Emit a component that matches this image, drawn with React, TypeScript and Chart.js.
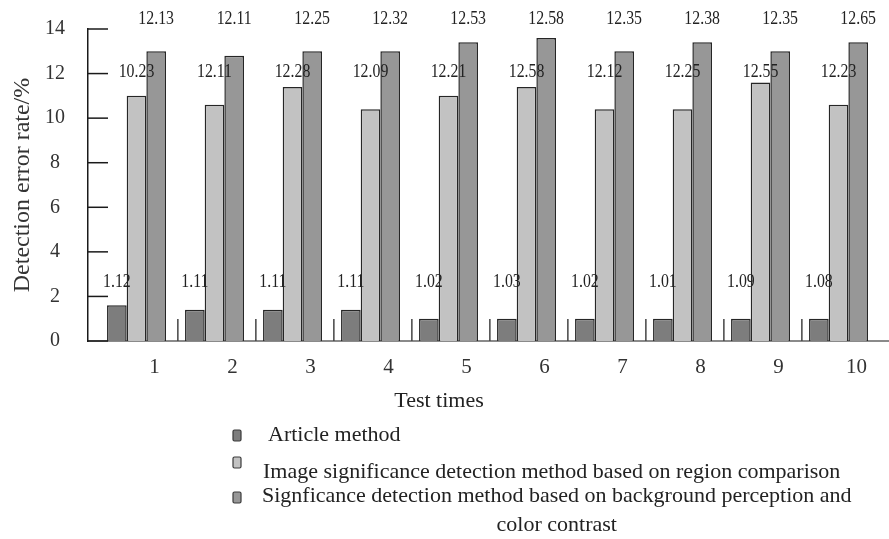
import React, { useEffect, useRef } from 'react';
import { Chart, registerables } from 'chart.js';

Chart.register(...registerables);

// ---- data ----
const testTimes = [1, 2, 3, 4, 5, 6, 7, 8, 9, 10];
const xTickLabels = ['1', '2', '3', '4', '5', '6', '7', '8', '9', '10'];

const seriesNames = [
  'Article method',
  'Image significance detection method based on region comparison',
  'Signficance detection method based on background perception and color contrast',
];

const articleMethod = [1.6, 1.4, 1.4, 1.4, 1.0, 1.0, 1.0, 1.0, 1.0, 1.0];
const regionComparison = [11.0, 10.6, 11.4, 10.4, 11.0, 11.4, 10.4, 10.4, 11.6, 10.6];
const backgroundPerception = [13.0, 12.8, 13.0, 13.0, 13.4, 13.6, 13.0, 13.4, 13.0, 13.4];

const articleLabels = ['1.12', '1.11', '1.11', '1.11', '1.02', '1.03', '1.02', '1.01', '1.09', '1.08'];
const regionLabels = ['10.23', '12.11', '12.28', '12.09', '12.21', '12.58', '12.12', '12.25', '12.55', '12.23'];
const backgroundLabels = ['12.13', '12.11', '12.25', '12.32', '12.53', '12.58', '12.35', '12.38', '12.35', '12.65'];

const xTitle = 'Test times';
const yTitle = 'Detection error rate/%';

// ---- styles ----
const FONT = "'Liberation Serif', 'Times New Roman', serif";
const seriesColors = ['#7d7d7d', '#c2c2c2', '#979797'];
const valueLabels = [articleLabels, regionLabels, backgroundLabels];
const labelLevels = [2.65, 12.04, 14.44];

const legendItems = [
  { boxY: 430, textX: 268, textY: 435 },
  { boxY: 457, textX: 263, textY: 472 },
  { boxY: 492, textX: 262, textY: 496 },
];

function wrap(ctx: CanvasRenderingContext2D, text: string, maxW: number): string[] {
  const words = text.split(' ');
  const lines: string[] = [];
  let cur = '';
  for (const w of words) {
    const t = cur ? cur + ' ' + w : w;
    if (ctx.measureText(t).width > maxW && cur) {
      lines.push(cur);
      cur = w;
    } else cur = t;
  }
  if (cur) lines.push(cur);
  return lines;
}

const decorPlugin = {
  id: 'decor',
  afterDraw(chart: any) {
    const { ctx, chartArea, scales } = chart;
    const xs = scales.x;
    const ys = scales.y;
    ctx.save();

    // inward y ticks
    ctx.strokeStyle = '#1a1a1a';
    ctx.lineWidth = 1.5;
    ys.ticks.forEach((t: any) => {
      const py = ys.getPixelForValue(t.value);
      ctx.beginPath();
      ctx.moveTo(chartArea.left, py);
      ctx.lineTo(chartArea.left + 20, py);
      ctx.stroke();
    });

    // group separator marks on x axis
    ctx.strokeStyle = '#444';
    ctx.lineWidth = 1.5;
    for (let k = 0; k < testTimes.length - 1; k++) {
      const px = xs.getPixelForValue(testTimes[k] + 0.53);
      ctx.beginPath();
      ctx.moveTo(px, chartArea.bottom);
      ctx.lineTo(px, chartArea.bottom - 22);
      ctx.stroke();
    }

    // value labels
    ctx.fillStyle = '#222';
    ctx.font = `18px ${FONT}`;
    ctx.textAlign = 'center';
    ctx.textBaseline = 'middle';
    chart.data.datasets.forEach((_ds: any, i: number) => {
      const meta = chart.getDatasetMeta(i);
      const py = ys.getPixelForValue(labelLevels[i]);
      meta.data.forEach((bar: any, j: number) => {
        ctx.save();
        ctx.translate(bar.x, py);
        ctx.scale(0.88, 1);
        ctx.fillText(valueLabels[i][j], 0, 0);
        ctx.restore();
      });
    });

    // x axis title
    ctx.fillStyle = '#222';
    ctx.font = `22px ${FONT}`;
    ctx.textAlign = 'center';
    ctx.textBaseline = 'middle';
    ctx.fillText(xTitle, 439, 401);

    // legend
    chart.data.datasets.forEach((ds: any, i: number) => {
      const it = legendItems[i];
      ctx.fillStyle = ds.backgroundColor;
      ctx.strokeStyle = '#3a3a3a';
      ctx.lineWidth = 1.2;
      ctx.beginPath();
      ctx.roundRect(233, it.boxY, 8, 11, 1.5);
      ctx.fill();
      ctx.stroke();

      ctx.fillStyle = '#222';
      ctx.font = `22px ${FONT}`;
      ctx.textBaseline = 'middle';
      const lines = wrap(ctx, ds.label, 612);
      const firstW = ctx.measureText(lines[0]).width;
      ctx.textAlign = 'left';
      ctx.fillText(lines[0], it.textX, it.textY);
      ctx.textAlign = 'center';
      for (let l = 1; l < lines.length; l++) {
        ctx.fillText(lines[l], it.textX + firstW / 2, it.textY + 29 * l);
      }
    });

    ctx.restore();
  },
};

export default function App() {
  const ref = useRef<HTMLCanvasElement>(null);

  useEffect(() => {
    const canvas = ref.current;
    if (!canvas) return;
    const seriesData = [articleMethod, regionComparison, backgroundPerception];
    const chart = new Chart(canvas, {
      type: 'bar',
      data: {
        labels: testTimes as any,
        datasets: seriesData.map((d, i) => ({
          label: seriesNames[i],
          data: d,
          backgroundColor: seriesColors[i],
          borderColor: '#262626',
          borderWidth: 1.5,
          categoryPercentage: 0.756,
          barPercentage: 1,
        })),
      },
      options: {
        responsive: false,
        animation: false,
        devicePixelRatio: 1,
        layout: { padding: { top: 29, bottom: 138, left: 0, right: 0 } },
        plugins: {
          legend: { display: false },
          tooltip: { enabled: false },
        },
        scales: {
          x: {
            type: 'linear',
            min: 0.378,
            max: 10.647,
            offset: false,
            grid: { display: false, drawTicks: false },
            border: { display: true, color: '#8a8a8a', width: 2 },
            ticks: {
              stepSize: 1,
              includeBounds: false,
              autoSkip: false,
              maxRotation: 0,
              padding: 14,
              labelOffset: 18,
              color: '#333',
              font: { family: FONT, size: 21 },
              callback: (v: any) => xTickLabels[Math.round(Number(v)) - 1] ?? '',
            },
            afterFit: (s: any) => {
              s.height = 60;
            },
          } as any,
          y: {
            min: 0,
            max: 14,
            grid: { display: false, drawTicks: false },
            border: { display: true, color: '#1a1a1a', width: 1.5 },
            ticks: {
              stepSize: 2,
              crossAlign: 'center',
              padding: 23,
              color: '#333',
              font: { family: FONT, size: 20 },
            },
            title: {
              display: true,
              text: yTitle,
              color: '#333',
              font: { family: FONT, size: 24 },
              padding: { top: 8, bottom: 0 },
            },
            afterFit: (s: any) => {
              s.width = 88;
              s.paddingTop = 12;
              s.paddingBottom = 12;
            },
          } as any,
        },
      },
      plugins: [decorPlugin],
    });
    return () => chart.destroy();
  }, []);

  return (
    <div style={{ position: 'fixed', left: 0, top: 0, width: 889, height: 539, background: '#fff' }}>
      <canvas ref={ref} width={889} height={539} style={{ display: 'block' }} />
    </div>
  );
}
